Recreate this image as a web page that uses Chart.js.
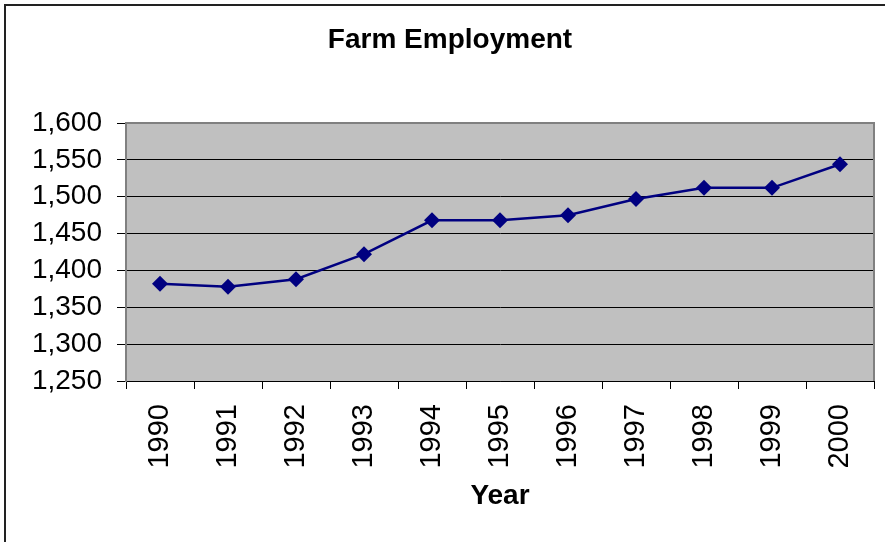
<!DOCTYPE html>
<html>
<head>
<meta charset="utf-8">
<script src="https://cdn.jsdelivr.net/npm/chart.js@4.4.1/dist/chart.umd.min.js"></script>
<style>
  html, body { margin: 0; padding: 0; background: #fff; }
  #farm { display: block; }
</style>
</head>
<body>
<canvas id="farm" width="885" height="542"></canvas>
<script>
Chart.defaults.color = '#000';
Chart.defaults.font.family = '"Liberation Sans", Arial, sans-serif';

const chartTitle = 'Farm Employment';
const years = ['1990', '1991', '1992', '1993', '1994', '1995', '1996', '1997', '1998', '1999', '2000'];
const employment = [1382, 1378, 1388, 1422, 1468, 1468, 1475, 1497, 1512, 1512, 1544];
const yMin = 1250;
const yMax = 1600;
const yStep = 50;

const lineColor = '#000080';
const plotColor = '#C0C0C0';
const edgeColor = '#808080';

// gray plot area, outer frame and the title
const framePlugin = {
  id: 'frame',
  beforeDraw(chart) {
    const { ctx, chartArea: a } = chart;
    ctx.save();
    ctx.fillStyle = plotColor;
    ctx.fillRect(a.left, a.top, a.right - a.left, a.bottom - a.top);

    ctx.strokeStyle = '#222';
    ctx.lineWidth = 2;
    ctx.strokeRect(5, 5, 1000, 1000);

    ctx.fillStyle = '#000';
    ctx.font = 'bold 28px "Liberation Sans", Arial, sans-serif';
    ctx.textAlign = 'center';
    ctx.textBaseline = 'alphabetic';
    ctx.fillText(chartTitle, 450, 48);
    ctx.restore();
  },
  afterDatasetsDraw(chart) {
    const { ctx, chartArea: a } = chart;
    ctx.save();
    ctx.strokeStyle = edgeColor;
    ctx.lineWidth = 2;
    ctx.beginPath();
    ctx.moveTo(a.left, a.bottom);
    ctx.lineTo(a.left, a.top);
    ctx.lineTo(a.right, a.top);
    ctx.lineTo(a.right, a.bottom);
    ctx.stroke();
    ctx.restore();
  }
};

new Chart(document.getElementById('farm'), {
  type: 'line',
  data: {
    labels: years,
    datasets: [{
      data: employment,
      borderColor: lineColor,
      backgroundColor: lineColor,
      borderWidth: 2.5,
      pointStyle: 'rectRot',
      pointRadius: 8,
      pointBorderWidth: 0,
      pointHoverRadius: 8,
      tension: 0,
    }]
  },
  options: {
    responsive: false,
    animation: false,
    layout: {
      padding: { top: 123, right: 11, bottom: 0, left: 0 }
    },
    plugins: {
      legend: { display: false },
      title: { display: false },
      tooltip: { enabled: false }
    },
    scales: {
      x: {
        offset: true,
        grid: {
          offset: true,
          drawOnChartArea: false,
          drawTicks: true,
          tickLength: 8,
          color: '#000',
        },
        border: { color: '#000', width: 1 },
        ticks: {
          minRotation: 90,
          maxRotation: 90,
          padding: 15,
          font: { size: 29 },
        },
        title: {
          display: true,
          text: 'Year',
          font: { size: 28, weight: 'bold' },
          padding: { top: 0, bottom: 29 },
        },
        afterFit(scale) {
          scale.height = 161;
          scale.paddingLeft = 0;
          scale.paddingRight = 0;
        }
      },
      y: {
        min: yMin,
        max: yMax,
        grid: {
          color: '#000',
          tickLength: 9,
          drawTicks: true,
        },
        border: { color: edgeColor, width: 2 },
        ticks: {
          stepSize: yStep,
          padding: 15,
          font: { size: 28 },
          callback: (v) => v.toLocaleString('en-US'),
        },
        afterFit(scale) { scale.width = 126; }
      }
    }
  },
  plugins: [framePlugin]
});
</script>
</body>
</html>
